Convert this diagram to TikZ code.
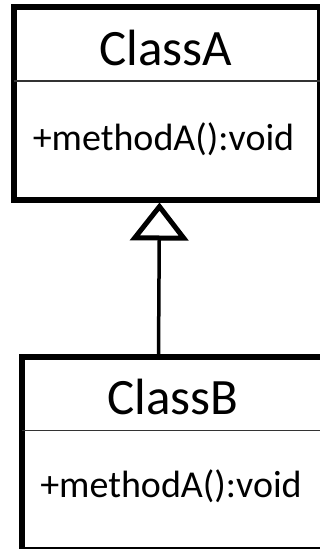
\documentclass[tikz,border=0pt]{standalone}
\usepackage{fontspec}
\setmainfont{Carlito}
\usetikzlibrary{arrows.meta,calc}
\begin{document}
\begin{tikzpicture}[x=1pt,y=-1pt,
  classbox/.style={draw=black, line width=6pt, rectangle, inner sep=0pt},
  nametext/.style={font=\fontsize{51}{60}\selectfont, anchor=base, inner sep=0pt},
  methtext/.style={font=\fontsize{38}{46}\selectfont, anchor=base, inner sep=0pt},
  sepline/.style={line width=1.6pt, draw=black!80},
  inherit/.style={line width=3.5pt, -{Triangle[open, length=38pt, width=58pt, line width=5pt]}}]
\useasboundingbox (0,0) rectangle (320,549);
% Class A
\node[classbox, minimum width=306pt, minimum height=192.5pt] (classA) at (167,103.25) {};
\draw[sepline] (14,81) coordinate (sepAl) -- (320,81) coordinate (sepAr);
\node[nametext] (nameA) at (166,65) {ClassA};
\node[methtext] (methA) at (163.5,150) {+methodA():void};
% Class B
\node[classbox, minimum width=303pt, minimum height=193pt] (classB) at (173.5,453.5) {};
\draw[sepline] (22,430.5) coordinate (sepBl) -- (325,430.5) coordinate (sepBr);
\node[nametext] (nameB) at (173,414) {ClassB};
\node[methtext] (methB) at (171,497) {+methodA():void};
% Inheritance
\draw[inherit] ($(classB.north west)+(139.5,0)$) -- ($(classA.south west)+(148.5,0)$);
\end{tikzpicture}
\end{document}
